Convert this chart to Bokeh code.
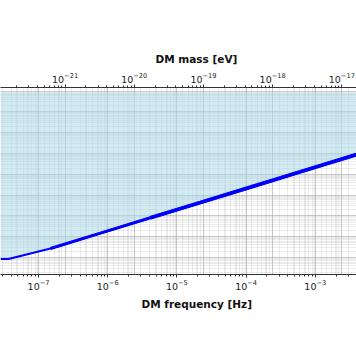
import numpy as np
from bokeh.plotting import figure
from bokeh.models import LogAxis, LogTicker, Range1d, LogScale, Title, Grid
from bokeh.embed import file_html
from bokeh.resources import INLINE

# values
freq_hz = [2.82e-8, 3.68e-8, 1.49e-7, 7.87e-7, 4.15e-6, 2.19e-5, 1.16e-4, 6.11e-4, 3.94e-3]
limit = [8.47e-21, 8.47e-21, 2.71e-20, 1.49e-19, 8.11e-19, 4.41e-18, 2.43e-17, 1.32e-16, 8.95e-16]
excluded_top = 8e-13
freq_range = (2.82e-8, 3.94e-3)
y_range = (1.52e-21, 1.49e-12)
HZ_PER_EV = 2.418e14

FONT = "DejaVu Sans"

p = figure(width=356, height=364, x_axis_type="log", y_axis_type="log",
           x_range=Range1d(*freq_range), y_range=Range1d(*y_range),
           y_axis_location=None, toolbar_location=None, output_backend="svg",
           min_border_left=0, min_border_right=0, min_border_top=87, min_border_bottom=90)
p.outline_line_color = None
p.background_fill_color = "white"
p.border_fill_color = "white"

bottom = p.below[0]
bottom.ticker.num_minor_ticks = 10

p.extra_x_ranges = {"mass": Range1d(freq_range[0] / HZ_PER_EV, freq_range[1] / HZ_PER_EV)}
p.extra_x_scales = {"mass": LogScale()}
top = LogAxis(x_range_name="mass", ticker=LogTicker(num_minor_ticks=10))
p.add_layout(top, "above")

for ax in (bottom, top):
    ax.major_label_text_font = FONT
    ax.major_label_text_font_size = "9.5px"
    ax.major_label_text_color = "#222222"
    ax.axis_line_color = "#333333"
    ax.major_tick_line_color = "#333333"
    ax.minor_tick_line_color = "#333333"
    ax.major_tick_out = 3
    ax.major_tick_in = 0
    ax.minor_tick_out = 2
    ax.minor_tick_in = 0
    ax.major_label_standoff = 2

p.add_layout(Title(text="DM mass [eV]", align="left", offset=155, text_font_size="10.5px",
                   standoff=9, text_font_style="bold", text_font=FONT, text_color="#111111"), "above")
p.add_layout(Title(text="DM frequency [Hz]", align="left", offset=141, text_font_size="10.5px",
                   standoff=7, text_font_style="bold", text_font=FONT, text_color="#111111"), "below")

p.ygrid[0].ticker = LogTicker(num_minor_ticks=10)
for g in (p.xgrid[0], p.ygrid[0]):
    g.grid_line_color = "#b0b0b0"
    g.grid_line_alpha = 0.6
    g.grid_line_width = 0.8
    g.minor_grid_line_color = "#b0b0b0"
    g.minor_grid_line_alpha = 0.4
    g.minor_grid_line_width = 0.6
mass_grid = Grid(dimension=0, ticker=top.ticker, x_range_name="mass",
                 grid_line_color="#b0b0b0", grid_line_alpha=0.6, grid_line_width=0.8,
                 minor_grid_line_color="#b0b0b0", minor_grid_line_alpha=0.4, minor_grid_line_width=0.6)
p.add_layout(mass_grid)

p.varea(x=freq_hz, y1=limit, y2=[excluded_top] * len(limit), fill_color="lightblue", fill_alpha=0.55)
p.line(freq_hz, limit, line_color="blue", line_width=2.2)
p.line(freq_hz[2:], limit[2:], line_color="blue", line_width=3.0)
p.line(freq_hz[4:], limit[4:], line_color="blue", line_width=3.8)

open("out.html", "w").write(file_html(p, INLINE))
